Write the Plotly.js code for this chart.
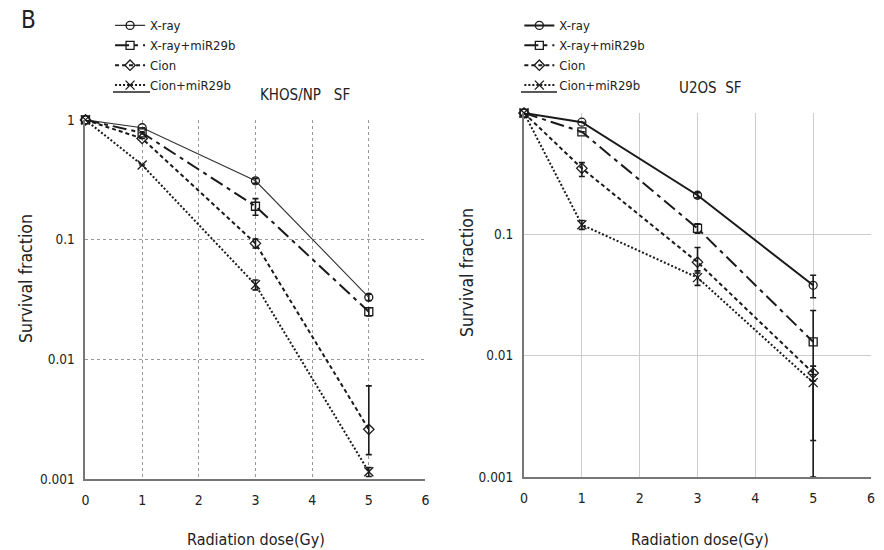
<!DOCTYPE html>
<html>
<head>
<meta charset="utf-8">
<script src="https://cdn.plot.ly/plotly-3.0.1.min.js"></script>
<style>
html,body{margin:0;padding:0;background:#fff;}
#chart{width:884px;height:550px;}
</style>
</head>
<body>
<div id="chart"></div>
<script>
// ---- data ----
const dose = [0, 1, 3, 5];
const seriesNames = ["X-ray", "X-ray+miR29b", "Cion", "Cion+miR29b"];
const xTicks = [0, 1, 2, 3, 4, 5, 6];
const yTickVals = [1, 0.1, 0.01, 0.001];
const yTickTextLeft = ["1", "0.1", "0.01", "0.001"];
const yTickTextRight = ["", "0.1", "0.01", "0.001"];
const panelTitles = ["KHOS/NP&nbsp;&nbsp;&nbsp;SF", "U2OS&nbsp;&nbsp;SF"];
const xTitle = "Radiation dose(Gy)";
const yTitle = "Survival fraction";

// KHOS/NP survival fraction
const khosXray = [1, 0.86, 0.31, 0.033];
const khosXrayMir = [1, 0.78, 0.19, 0.025];
const khosCion = [1, 0.70, 0.093, 0.0026];
const khosCionMir = [1, 0.42, 0.042, 0.00115];
const khosXrayErr = [0, 0, 0.015, 0.002];
const khosXrayMirErr = [0, 0, 0.03, 0.002];
const khosCionErrPlus = [0, 0, 0.008, 0.0034];
const khosCionErrMinus = [0, 0, 0.008, 0.001];
const khosCionMirErr = [0, 0, 0.004, 0.0001];

// U2OS survival fraction
const u2osXray = [1, 0.84, 0.21, 0.038];
const u2osXrayMir = [1, 0.70, 0.112, 0.013];
const u2osCion = [1, 0.35, 0.059, 0.0072];
const u2osCionMir = [1, 0.12, 0.044, 0.006];
const u2osXrayErr = [0, 0, 0.01, 0.008];
const u2osXrayMirErrPlus = [0, 0, 0.01, 0.0106];
const u2osXrayMirErrMinus = [0, 0, 0.01, 0.011];
const u2osCionErrPlus = [0, 0.04, 0.019, 0.001];
const u2osCionErrMinus = [0, 0.05, 0.011, 0.001];
const u2osCionMirErrPlus = [0, 0.01, 0.006, 0.001];
const u2osCionMirErrMinus = [0, 0.01, 0.006, 0.005];

// ---- styling ----
const FONT = "'Liberation Sans Narrow', 'Arial Narrow', 'DejaVu Sans Condensed', Arial, sans-serif";
const INK = "#1a1a1a";
const TXT = "#222";
const symbols = ["circle-open", "square-open", "diamond-open", "x-thin-open"];

function err(plus, minus) {
  return {type: "data", symmetric: false, array: plus, arrayminus: minus || plus,
          color: INK, thickness: 1.6, width: 3};
}

function trace(y, i, xa, ya, legendId, lineStyle, e) {
  return {
    x: dose, y: y, name: seriesNames[i], xaxis: xa, yaxis: ya, legend: legendId,
    type: "scatter", mode: "lines+markers", cliponaxis: false,
    line: lineStyle,
    marker: {symbol: symbols[i], size: i === 3 ? 9 : 8, color: INK, line: {width: 1.3, color: INK}},
    error_y: e
  };
}

const DASHDOT = "14px,5px,4px,5px";
const data = [
  trace(khosXray, 0, "x", "y", "legend", {color: "#333", width: 1.1}, err(khosXrayErr)),
  trace(khosXrayMir, 1, "x", "y", "legend", {color: INK, width: 2, dash: DASHDOT}, err(khosXrayMirErr)),
  trace(khosCion, 2, "x", "y", "legend", {color: INK, width: 2, dash: "4px,3px"}, err(khosCionErrPlus, khosCionErrMinus)),
  trace(khosCionMir, 3, "x", "y", "legend", {color: INK, width: 2, dash: "2px,2px"}, err(khosCionMirErr)),
  trace(u2osXray, 0, "x2", "y2", "legend2", {color: INK, width: 2}, err(u2osXrayErr)),
  trace(u2osXrayMir, 1, "x2", "y2", "legend2", {color: INK, width: 2, dash: DASHDOT}, err(u2osXrayMirErrPlus, u2osXrayMirErrMinus)),
  trace(u2osCion, 2, "x2", "y2", "legend2", {color: INK, width: 2, dash: "4px,3px"}, err(u2osCionErrPlus, u2osCionErrMinus)),
  trace(u2osCionMir, 3, "x2", "y2", "legend2", {color: INK, width: 2, dash: "2px,2px"}, err(u2osCionMirErrPlus, u2osCionMirErrMinus))
];

function xax(domain, anchor, griddash, gridcolor) {
  return {
    domain: domain, anchor: anchor, range: [0, 6], tickvals: xTicks, ticks: "",
    showgrid: true, gridcolor: gridcolor, griddash: griddash, gridwidth: 1,
    showline: true, linecolor: "#777", linewidth: 2, zeroline: false,
    tickfont: {family: FONT, size: 14, color: TXT}, ticklabelstandoff: 7
  };
}
function yax(domain, anchor, ticktext, griddash, gridcolor) {
  return {
    domain: domain, anchor: anchor, type: "log", range: [-3, 0],
    tickvals: yTickVals, ticktext: ticktext, ticks: "",
    showgrid: true, gridcolor: gridcolor, griddash: griddash, gridwidth: 1,
    showline: true, linecolor: "#777", linewidth: 2, zeroline: false,
    tickfont: {family: FONT, size: 13.5, color: TXT}, ticklabelstandoff: 6
  };
}

const legendBase = {
  yanchor: "top", xanchor: "left", bgcolor: "rgba(0,0,0,0)", borderwidth: 0,
  font: {family: FONT, size: 13, color: TXT}, tracegroupgap: 0, itemwidth: 30
};

function ann(text, xpx, ypx, size, extra) {
  return Object.assign({text: text, xref: "paper", yref: "paper", x: xpx / 884, y: 1 - ypx / 550,
    xanchor: "center", yanchor: "middle", showarrow: false,
    font: {family: FONT, size: size, color: TXT}}, extra || {});
}

const layout = {
  width: 884, height: 550,
  margin: {l: 0, r: 0, t: 0, b: 0},
  paper_bgcolor: "#fff", plot_bgcolor: "#fff",
  showlegend: true,
  xaxis: xax([0.0967, 0.4813], "y", "dot", "#999"),
  yaxis: yax([0.129, 0.782], "x", yTickTextLeft, "dot", "#999"),
  xaxis2: xax([0.5928, 0.9853], "y2", "solid", "#ccc"),
  yaxis2: yax([0.1327, 0.7945], "x2", yTickTextRight, "solid", "#ccc"),
  legend: Object.assign({}, legendBase, {x: 0.1245, y: 0.981}),
  legend2: Object.assign({}, legendBase, {x: 0.5875, y: 0.981}),
  annotations: [
    ann("B", 28, 20, 24),
    ann(panelTitles[0], 258, 95, 15, {xanchor: "left"}),
    ann(panelTitles[1], 677, 88, 15, {xanchor: "left"}),
    ann(xTitle, 256, 539, 16),
    ann(xTitle, 700, 539, 16),
    ann(yTitle, 26, 279, 17.5, {textangle: -90}),
    ann(yTitle, 467, 273, 17.5, {textangle: -90})
  ],
  shapes: [
    {type: "line", xref: "paper", yref: "paper", x0: 113/884, x1: 150/884, y0: 1 - 92/550, y1: 1 - 92/550,
     line: {color: "#222", width: 1.5}},
    {type: "line", xref: "paper", yref: "paper", x0: 521/884, x1: 557/884, y0: 1 - 92/550, y1: 1 - 92/550,
     line: {color: "#222", width: 1.5}}
  ]
};

Plotly.newPlot("chart", data, layout, {displayModeBar: false, staticPlot: true});
</script>
</body>
</html>
